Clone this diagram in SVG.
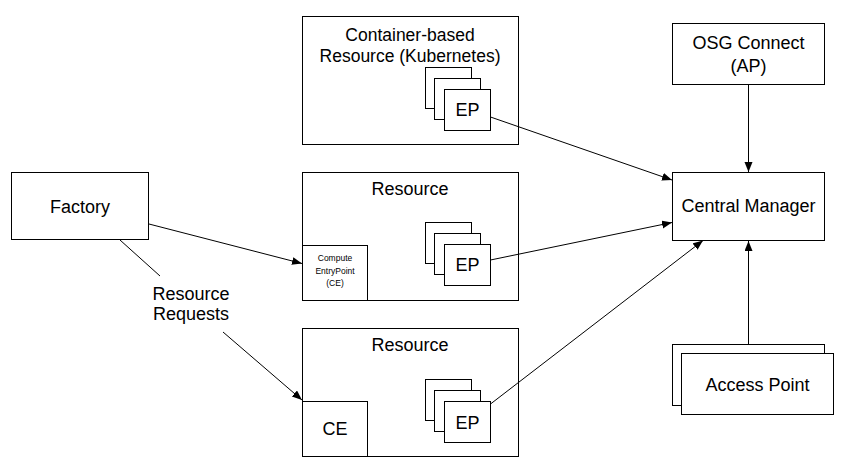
<svg xmlns="http://www.w3.org/2000/svg" width="851" height="475" viewBox="0 0 851 475">
<defs>
<style>
.box{fill:#fff;stroke:#000;stroke-width:1}
.t{font-family:"Liberation Sans",Arial,Helvetica,sans-serif;font-size:18px;fill:#000;text-anchor:middle}
.k{font-size:17.5px}
.s{font-family:"Liberation Sans",Arial,Helvetica,sans-serif;font-size:8.5px;fill:#000;text-anchor:middle}
.c{fill:none;stroke:#000;stroke-width:1}
</style>
<marker id="arr" markerUnits="userSpaceOnUse" markerWidth="11" markerHeight="9" refX="10" refY="4" orient="auto">
<path d="M0,0 L10,4 L0,8 z" fill="#000"/>
</marker>
</defs>
<rect width="851" height="475" fill="#fff"/>

<g id="kube">
<rect class="box" x="302.5" y="16.5" width="216" height="128"/>
<text class="t k" x="410" y="41">Container-based</text>
<text class="t k" x="410" y="61.5">Resource (Kubernetes)</text>
<rect class="box" x="425.5" y="67.5" width="46" height="41"/>
<rect class="box" x="434.5" y="78.5" width="46" height="41"/>
<rect class="box" x="444.5" y="89.5" width="46" height="41"/>
<text class="t" x="467.5" y="116">EP</text>
</g>

<g id="resource1">
<rect class="box" x="302.5" y="172.5" width="216" height="128"/>
<text class="t" x="410" y="195">Resource</text>
<rect class="box" x="302.5" y="245.5" width="65" height="55"/>
<text class="s" x="335" y="261">Compute</text>
<text class="s" x="335" y="273.5">EntryPoint</text>
<text class="s" x="335" y="286">(CE)</text>
<rect class="box" x="425.5" y="222.5" width="46" height="41"/>
<rect class="box" x="434.5" y="233.5" width="46" height="41"/>
<rect class="box" x="444.5" y="244.5" width="46" height="41"/>
<text class="t" x="467.5" y="271">EP</text>
</g>

<g id="resource2">
<rect class="box" x="302.5" y="328.5" width="216" height="128"/>
<text class="t" x="410" y="351">Resource</text>
<rect class="box" x="302.5" y="401.5" width="65" height="55"/>
<text class="t" x="335" y="435">CE</text>
<rect class="box" x="425.5" y="379.5" width="46" height="41"/>
<rect class="box" x="434.5" y="390.5" width="46" height="41"/>
<rect class="box" x="444.5" y="401.5" width="46" height="41"/>
<text class="t" x="467.5" y="429">EP</text>
</g>

<g id="factory">
<rect class="box" x="11.5" y="172.5" width="137" height="67"/>
<text class="t" x="80" y="213">Factory</text>
</g>

<g id="osg">
<rect class="box" x="672.5" y="23.5" width="152" height="61"/>
<text class="t" x="748.5" y="49">OSG Connect</text>
<text class="t" x="748.5" y="72">(AP)</text>
</g>

<g id="cm">
<rect class="box" x="672.5" y="172.5" width="152" height="68"/>
<text class="t" x="748.5" y="212">Central Manager</text>
</g>

<g id="ap">
<rect class="box" x="672.5" y="344.5" width="152" height="61"/>
<rect class="box" x="681.5" y="353.5" width="152" height="61"/>
<text class="t" x="757.5" y="391">Access Point</text>
</g>

<g id="connectors">
<line class="c" x1="149" y1="224" x2="302" y2="263.5" marker-end="url(#arr)"/>
<line class="c" x1="120" y1="240" x2="160" y2="276"/>
<line class="c" x1="223" y1="332" x2="302" y2="400" marker-end="url(#arr)"/>
<text class="t" x="191" y="300">Resource</text>
<text class="t" x="191" y="320">Requests</text>
<line class="c" x1="490.5" y1="117" x2="672" y2="180" marker-end="url(#arr)"/>
<line class="c" x1="490.5" y1="260" x2="672" y2="222.5" marker-end="url(#arr)"/>
<line class="c" x1="490.5" y1="404" x2="703" y2="240.5" marker-end="url(#arr)"/>
<line class="c" x1="748.5" y1="85" x2="748.5" y2="172" marker-end="url(#arr)"/>
<line class="c" x1="748.5" y1="344" x2="748.5" y2="241" marker-end="url(#arr)"/>
</g>
</svg>
